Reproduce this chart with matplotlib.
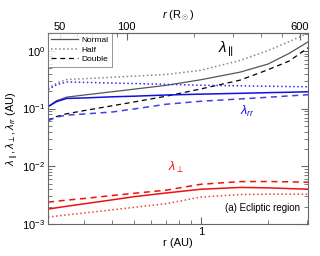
import numpy as np
import matplotlib
matplotlib.use('Agg')
import matplotlib.pyplot as plt
from matplotlib.ticker import FixedLocator, NullFormatter, LogLocator

plt.rcParams['font.family'] = ['Liberation Sans', 'DejaVu Sans']
plt.rcParams['mathtext.fontset'] = 'custom'
plt.rcParams['mathtext.rm'] = 'Liberation Sans'
plt.rcParams['mathtext.it'] = 'Liberation Sans:italic'
plt.rcParams['mathtext.bf'] = 'Liberation Sans:bold'

AU_RSUN = 215.0

# radial distance (AU)
r_au = [0.206, 0.225, 0.25, 0.3, 0.4, 0.5, 0.7, 1.0, 1.5, 2.0, 2.5, 3.03]

# parallel mean free path
lpar_normal = [0.108, 0.137, 0.158, 0.172, 0.196, 0.217, 0.253, 0.316, 0.428, 0.59, 0.91, 1.43]
lpar_half = [0.221, 0.276, 0.319, 0.33, 0.349, 0.365, 0.39, 0.461, 0.683, 1.01, 1.45, 2.04]
lpar_double = [0.062, 0.0728, 0.0814, 0.0924, 0.112, 0.130, 0.164, 0.219, 0.311, 0.47, 0.67, 1.13]

# radial mean free path
lrr_normal = [0.108, 0.132, 0.15, 0.153, 0.16, 0.164, 0.172, 0.178, 0.184, 0.189, 0.192, 0.196]
lrr_half = [0.213, 0.259, 0.289, 0.285, 0.277, 0.272, 0.263, 0.254, 0.248, 0.244, 0.241, 0.239]
lrr_double = [0.062, 0.0713, 0.077, 0.0807, 0.0873, 0.0984, 0.119, 0.134, 0.147, 0.157, 0.166, 0.174]

# perpendicular mean free path
lperp_normal = [0.00181, 0.00191, 0.00203, 0.00224, 0.00262, 0.00297, 0.00345, 0.0040, 0.0043, 0.00423, 0.00411, 0.00401]
lperp_half = [0.00132, 0.00137, 0.00144, 0.00155, 0.00176, 0.00194, 0.00225, 0.00293, 0.00324, 0.00329, 0.00329, 0.00329]
lperp_double = [0.00239, 0.00248, 0.00259, 0.00277, 0.00311, 0.0034, 0.00386, 0.00488, 0.00543, 0.00545, 0.00538, 0.0053]

fig = plt.figure(figsize=(3.2, 2.56), dpi=100)
ax = fig.add_axes([0.15, 0.125, 0.8125, 0.746])

lw = 0.9
l1, = ax.plot(r_au, lpar_normal, '-', color='#555555', lw=lw, label='Normal')
l2, = ax.plot(r_au, lpar_half, ':', color='#888888', lw=1.1, label='Half')
l3, = ax.plot(r_au, lpar_double, '--', color='black', lw=lw, label='Double', dashes=(4, 3))

ax.plot(r_au, lrr_normal, '-', color='#1010e0', lw=1.1)
ax.plot(r_au, lrr_half, ':', color='#3030f0', lw=1.1)
ax.plot(r_au, lrr_double, '--', color='#4040e8', lw=1.1, dashes=(4, 3))

ax.plot(r_au, lperp_normal, '-', color='#f01010', lw=1.1)
ax.plot(r_au, lperp_half, ':', color='#f04040', lw=1.1)
ax.plot(r_au, lperp_double, '--', color='#f01010', lw=1.1, dashes=(4, 3))

ax.set_xscale('log')
ax.set_yscale('log')
ax.set_xlim(0.206, 3.03)
ax.set_ylim(1e-3, 2.04)

ax.xaxis.set_major_locator(FixedLocator([1.0]))
ax.xaxis.set_major_formatter(matplotlib.ticker.FixedFormatter(['1']))
ax.xaxis.set_minor_locator(FixedLocator([0.3, 0.4, 0.5, 0.6, 0.7, 0.8, 0.9, 2.0, 3.0]))
ax.xaxis.set_minor_formatter(NullFormatter())
ax.yaxis.set_major_locator(LogLocator(base=10, numticks=10))
ax.yaxis.set_minor_locator(LogLocator(base=10, subs=np.arange(2, 10), numticks=10))
ax.yaxis.set_minor_formatter(NullFormatter())

ax.tick_params(which='both', direction='in', right=True, top=False, color='#666666', labelsize=8, pad=2)
ax.tick_params(which='major', length=5, width=0.8)
ax.tick_params(which='minor', length=3, width=0.6)
for s in ax.spines.values():
    s.set_color('#666666')
    s.set_linewidth(0.8)

ax.set_xlabel('r (AU)', fontsize=8, labelpad=1)
ax.set_ylabel(r'$\lambda_{\parallel}, \lambda_{\perp}, \lambda_{rr}$ (AU)', fontsize=8, labelpad=1)

sec = ax.secondary_xaxis('top', functions=(lambda x: x * AU_RSUN, lambda x: x / AU_RSUN))
sec.xaxis.set_major_locator(FixedLocator([50, 100, 600]))
sec.xaxis.set_major_formatter(matplotlib.ticker.FixedFormatter(['50', '100', '600']))
sec.xaxis.set_minor_locator(FixedLocator([60, 70, 80, 90, 200, 300, 400, 500]))
sec.xaxis.set_minor_formatter(NullFormatter())
sec.tick_params(which='both', direction='in', color='#666666', labelsize=8, pad=1)
sec.tick_params(which='major', length=5, width=0.8)
sec.tick_params(which='minor', length=3, width=0.6)
sec.spines['top'].set_color('#666666')
sec.set_xlabel(r'$r$ (R$_\odot$)', fontsize=8, labelpad=2)

ax.text(0.655, 0.9, r'$\lambda_{\mathbf{\parallel}}$', transform=ax.transAxes, fontsize=11, color='black')
ax.text(0.74, 0.57, r'$\lambda_{rr}$', transform=ax.transAxes, fontsize=9, color='#1010e0')
ax.text(0.46, 0.28, r'$\lambda_{\perp}$', transform=ax.transAxes, fontsize=9, color='#f01010')
ax.text(0.97, 0.06, '(a) Ecliptic region', transform=ax.transAxes, fontsize=7, ha='right', va='bottom')

leg = ax.legend(handles=[l1, l2, l3], loc='upper left', fontsize=6, frameon=True, fancybox=False,
                borderaxespad=0.0, handlelength=3.2, handletextpad=0.4, labelspacing=0.2,
                borderpad=0.4, edgecolor='#666666')
leg.get_frame().set_linewidth(0.6)

fig.savefig('out.png', dpi=100)
